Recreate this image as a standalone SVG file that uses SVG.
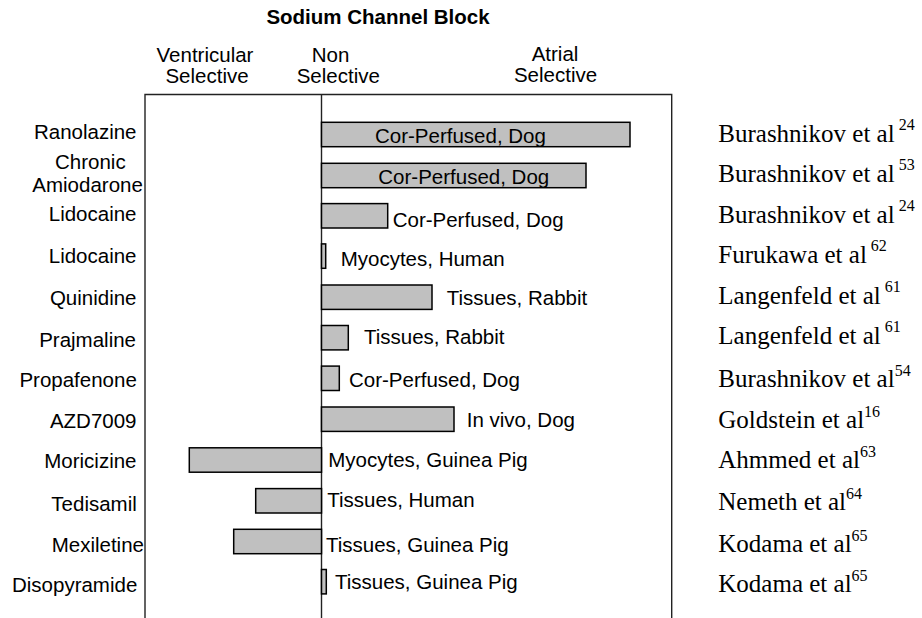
<svg xmlns="http://www.w3.org/2000/svg" width="922" height="618" viewBox="0 0 922 618">
<style>
.s{font-family:"Liberation Sans",Arial,Helvetica,sans-serif;font-size:20.5px;fill:#000}
.t{font-family:"Liberation Sans",Arial,Helvetica,sans-serif;font-size:20.5px;font-weight:bold;fill:#000}
.c{font-family:"Liberation Serif","Times New Roman",serif;font-size:25px;fill:#000}
.sup{font-size:16px}
.bar{fill:#c0c0c0;stroke:#000;stroke-width:1.5}
.ax{fill:none;stroke:#222;stroke-width:1.4}
.e{text-anchor:end}
.m{text-anchor:middle}
</style>
<rect width="922" height="618" fill="#fff"/>
<g id="header">
<text class="t m" x="378" y="23.5">Sodium Channel Block</text>
<text class="s m" x="205" y="61.5">Ventricular</text>
<text class="s m" x="207" y="82.5">Selective</text>
<text class="s" x="311.7" y="61.5">Non</text>
<text class="s" x="296.7" y="82.5">Selective</text>
<text class="s m" x="555" y="61">Atrial</text>
<text class="s m" x="555.5" y="82">Selective</text>
</g>
<g id="axes">
<polyline class="ax" points="145,618 145,94.5 671.7,94.5 671.7,618"/>
<line class="ax" x1="321.5" y1="94.5" x2="321.5" y2="618"/>
</g>
<g id="row-ranolazine">
<text class="s e" x="136.5" y="139.3">Ranolazine</text>
<rect class="bar" x="321.5" y="122.3" width="308.5" height="24.4"/>
<text class="s" x="375" y="143.3">Cor-Perfused, Dog</text>
<text class="c" x="718.3" y="141.7">Burashnikov et al<tspan class="sup" dy="-12"> 24</tspan></text>
</g>
<g id="row-amiodarone">
<text class="s" x="55" y="169">Chronic</text>
<text class="s" x="32.3" y="191.7">Amiodarone</text>
<rect class="bar" x="321.5" y="163.3" width="264.5" height="24.4"/>
<text class="s" x="378.3" y="184">Cor-Perfused, Dog</text>
<text class="c" x="718.3" y="182.3">Burashnikov et al<tspan class="sup" dy="-12"> 53</tspan></text>
</g>
<g id="row-lidocaine-1">
<text class="s e" x="136.5" y="220.7">Lidocaine</text>
<rect class="bar" x="321.5" y="203.6" width="66.2" height="24.4"/>
<text class="s" x="392.7" y="227.3">Cor-Perfused, Dog</text>
<text class="c" x="718.3" y="222.7">Burashnikov et al<tspan class="sup" dy="-12"> 24</tspan></text>
</g>
<g id="row-lidocaine-2">
<text class="s e" x="136.5" y="263.3">Lidocaine</text>
<rect class="bar" x="321.5" y="243.9" width="4.2" height="24.4"/>
<text class="s" x="340.7" y="265.5">Myocytes, Human</text>
<text class="c" x="718.3" y="263.3">Furukawa et al<tspan class="sup" dy="-12"> 62</tspan></text>
</g>
<g id="row-quinidine">
<text class="s e" x="136.5" y="305">Quinidine</text>
<rect class="bar" x="321.5" y="285" width="110.5" height="24.4"/>
<text class="s" x="446.7" y="305">Tissues, Rabbit</text>
<text class="c" x="718.3" y="304">Langenfeld et al<tspan class="sup" dy="-12"> 61</tspan></text>
</g>
<g id="row-prajmaline">
<text class="s e" x="136" y="347">Prajmaline</text>
<rect class="bar" x="321.5" y="325.5" width="26.8" height="24.4"/>
<text class="s" x="364" y="344">Tissues, Rabbit</text>
<text class="c" x="718.3" y="343.5">Langenfeld et al<tspan class="sup" dy="-12"> 61</tspan></text>
</g>
<g id="row-propafenone">
<text class="s e" x="136.8" y="386.7">Propafenone</text>
<rect class="bar" x="321.5" y="366.1" width="17.8" height="24.4"/>
<text class="s" x="349" y="386.7">Cor-Perfused, Dog</text>
<text class="c" x="718.3" y="386.7">Burashnikov et al<tspan class="sup" dy="-11">54</tspan></text>
</g>
<g id="row-azd7009">
<text class="s e" x="136.5" y="427.7">AZD7009</text>
<rect class="bar" x="321.5" y="407" width="132.5" height="24.4"/>
<text class="s" x="466.7" y="426.7">In vivo, Dog</text>
<text class="c" x="718.3" y="428.3">Goldstein et al<tspan class="sup" dy="-11">16</tspan></text>
</g>
<g id="row-moricizine">
<text class="s e" x="136.5" y="467.5">Moricizine</text>
<rect class="bar" x="189.3" y="447.8" width="132.2" height="24.4"/>
<text class="s" x="328.3" y="466.7">Myocytes, Guinea Pig</text>
<text class="c" x="718.3" y="468.3">Ahmmed et al<tspan class="sup" dy="-11">63</tspan></text>
</g>
<g id="row-tedisamil">
<text class="s e" x="136.8" y="511">Tedisamil</text>
<rect class="bar" x="255.7" y="488.6" width="65.8" height="24.4"/>
<text class="s" x="327.3" y="507.3">Tissues, Human</text>
<text class="c" x="718.3" y="510">Nemeth et al<tspan class="sup" dy="-11">64</tspan></text>
</g>
<g id="row-mexiletine">
<text class="s" x="51.7" y="551.7">Mexiletine</text>
<rect class="bar" x="233.7" y="529.3" width="87.8" height="24.4"/>
<text class="s" x="326" y="551.7">Tissues, Guinea Pig</text>
<text class="c" x="718.3" y="551.7">Kodama et al<tspan class="sup" dy="-11">65</tspan></text>
</g>
<g id="row-disopyramide">
<text class="s e" x="137.3" y="591.5">Disopyramide</text>
<rect class="bar" x="321.5" y="569.5" width="4.8" height="24.4"/>
<text class="s" x="335" y="589.3">Tissues, Guinea Pig</text>
<text class="c" x="718.3" y="591.7">Kodama et al<tspan class="sup" dy="-11">65</tspan></text>
</g>
</svg>
